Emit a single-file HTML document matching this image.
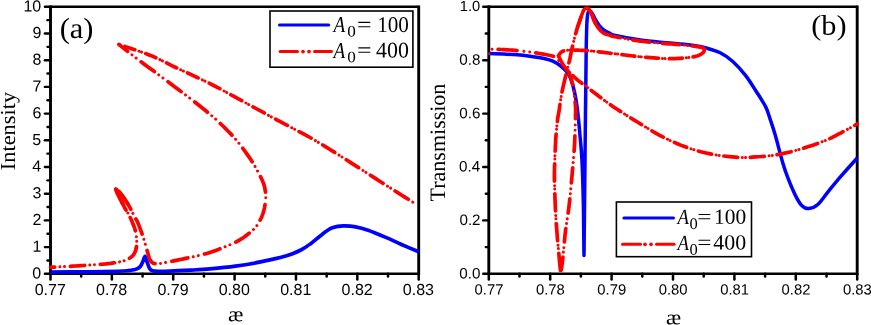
<!DOCTYPE html>
<html><head><meta charset="utf-8"><title>chart</title>
<style>html,body{margin:0;padding:0;background:#fff;}svg{display:block;will-change:transform;}text{text-rendering:geometricPrecision;}.sa{font-family:"Liberation Sans",sans-serif;}.se{font-family:"Liberation Serif",serif;}.si{font-family:"Liberation Serif",serif;font-style:italic;}</style></head>
<body>
<svg width="871" height="325" viewBox="0 0 871 325">
<rect x="0" y="0" width="871" height="325" fill="#ffffff"/>
<line x1="50.50" y1="5.55" x2="50.50" y2="275.05" stroke="#000" stroke-width="2.9"/>
<line x1="418.70" y1="5.55" x2="418.70" y2="275.05" stroke="#000" stroke-width="2.9"/>
<line x1="50.50" y1="6.80" x2="418.70" y2="6.80" stroke="#000" stroke-width="2.5"/>
<line x1="50.50" y1="273.80" x2="418.70" y2="273.80" stroke="#000" stroke-width="2.5"/>
<line x1="488.80" y1="5.55" x2="488.80" y2="275.05" stroke="#000" stroke-width="2.9"/>
<line x1="857.20" y1="5.55" x2="857.20" y2="275.05" stroke="#000" stroke-width="2.9"/>
<line x1="488.80" y1="6.80" x2="857.20" y2="6.80" stroke="#000" stroke-width="2.5"/>
<line x1="488.80" y1="273.80" x2="857.20" y2="273.80" stroke="#000" stroke-width="2.5"/>
<line x1="50.50" y1="273.80" x2="50.50" y2="279.60" stroke="#000" stroke-width="2.5" stroke-linecap="round"/>
<line x1="81.18" y1="273.80" x2="81.18" y2="276.60" stroke="#000" stroke-width="2.5" stroke-linecap="round"/>
<line x1="111.87" y1="273.80" x2="111.87" y2="279.60" stroke="#000" stroke-width="2.5" stroke-linecap="round"/>
<line x1="142.55" y1="273.80" x2="142.55" y2="276.60" stroke="#000" stroke-width="2.5" stroke-linecap="round"/>
<line x1="173.23" y1="273.80" x2="173.23" y2="279.60" stroke="#000" stroke-width="2.5" stroke-linecap="round"/>
<line x1="203.92" y1="273.80" x2="203.92" y2="276.60" stroke="#000" stroke-width="2.5" stroke-linecap="round"/>
<line x1="234.60" y1="273.80" x2="234.60" y2="279.60" stroke="#000" stroke-width="2.5" stroke-linecap="round"/>
<line x1="265.28" y1="273.80" x2="265.28" y2="276.60" stroke="#000" stroke-width="2.5" stroke-linecap="round"/>
<line x1="295.97" y1="273.80" x2="295.97" y2="279.60" stroke="#000" stroke-width="2.5" stroke-linecap="round"/>
<line x1="326.65" y1="273.80" x2="326.65" y2="276.60" stroke="#000" stroke-width="2.5" stroke-linecap="round"/>
<line x1="357.33" y1="273.80" x2="357.33" y2="279.60" stroke="#000" stroke-width="2.5" stroke-linecap="round"/>
<line x1="388.02" y1="273.80" x2="388.02" y2="276.60" stroke="#000" stroke-width="2.5" stroke-linecap="round"/>
<line x1="418.70" y1="273.80" x2="418.70" y2="279.60" stroke="#000" stroke-width="2.5" stroke-linecap="round"/>
<line x1="488.80" y1="273.80" x2="488.80" y2="279.60" stroke="#000" stroke-width="2.5" stroke-linecap="round"/>
<line x1="519.50" y1="273.80" x2="519.50" y2="276.60" stroke="#000" stroke-width="2.5" stroke-linecap="round"/>
<line x1="550.20" y1="273.80" x2="550.20" y2="279.60" stroke="#000" stroke-width="2.5" stroke-linecap="round"/>
<line x1="580.90" y1="273.80" x2="580.90" y2="276.60" stroke="#000" stroke-width="2.5" stroke-linecap="round"/>
<line x1="611.60" y1="273.80" x2="611.60" y2="279.60" stroke="#000" stroke-width="2.5" stroke-linecap="round"/>
<line x1="642.30" y1="273.80" x2="642.30" y2="276.60" stroke="#000" stroke-width="2.5" stroke-linecap="round"/>
<line x1="673.00" y1="273.80" x2="673.00" y2="279.60" stroke="#000" stroke-width="2.5" stroke-linecap="round"/>
<line x1="703.70" y1="273.80" x2="703.70" y2="276.60" stroke="#000" stroke-width="2.5" stroke-linecap="round"/>
<line x1="734.40" y1="273.80" x2="734.40" y2="279.60" stroke="#000" stroke-width="2.5" stroke-linecap="round"/>
<line x1="765.10" y1="273.80" x2="765.10" y2="276.60" stroke="#000" stroke-width="2.5" stroke-linecap="round"/>
<line x1="795.80" y1="273.80" x2="795.80" y2="279.60" stroke="#000" stroke-width="2.5" stroke-linecap="round"/>
<line x1="826.50" y1="273.80" x2="826.50" y2="276.60" stroke="#000" stroke-width="2.5" stroke-linecap="round"/>
<line x1="857.20" y1="273.80" x2="857.20" y2="279.60" stroke="#000" stroke-width="2.5" stroke-linecap="round"/>
<line x1="44.90" y1="273.80" x2="50.50" y2="273.80" stroke="#000" stroke-width="2.4" stroke-linecap="round"/>
<line x1="47.50" y1="260.45" x2="50.50" y2="260.45" stroke="#000" stroke-width="2.4" stroke-linecap="round"/>
<line x1="44.90" y1="247.10" x2="50.50" y2="247.10" stroke="#000" stroke-width="2.4" stroke-linecap="round"/>
<line x1="47.50" y1="233.75" x2="50.50" y2="233.75" stroke="#000" stroke-width="2.4" stroke-linecap="round"/>
<line x1="44.90" y1="220.40" x2="50.50" y2="220.40" stroke="#000" stroke-width="2.4" stroke-linecap="round"/>
<line x1="47.50" y1="207.05" x2="50.50" y2="207.05" stroke="#000" stroke-width="2.4" stroke-linecap="round"/>
<line x1="44.90" y1="193.70" x2="50.50" y2="193.70" stroke="#000" stroke-width="2.4" stroke-linecap="round"/>
<line x1="47.50" y1="180.35" x2="50.50" y2="180.35" stroke="#000" stroke-width="2.4" stroke-linecap="round"/>
<line x1="44.90" y1="167.00" x2="50.50" y2="167.00" stroke="#000" stroke-width="2.4" stroke-linecap="round"/>
<line x1="47.50" y1="153.65" x2="50.50" y2="153.65" stroke="#000" stroke-width="2.4" stroke-linecap="round"/>
<line x1="44.90" y1="140.30" x2="50.50" y2="140.30" stroke="#000" stroke-width="2.4" stroke-linecap="round"/>
<line x1="47.50" y1="126.95" x2="50.50" y2="126.95" stroke="#000" stroke-width="2.4" stroke-linecap="round"/>
<line x1="44.90" y1="113.60" x2="50.50" y2="113.60" stroke="#000" stroke-width="2.4" stroke-linecap="round"/>
<line x1="47.50" y1="100.25" x2="50.50" y2="100.25" stroke="#000" stroke-width="2.4" stroke-linecap="round"/>
<line x1="44.90" y1="86.90" x2="50.50" y2="86.90" stroke="#000" stroke-width="2.4" stroke-linecap="round"/>
<line x1="47.50" y1="73.55" x2="50.50" y2="73.55" stroke="#000" stroke-width="2.4" stroke-linecap="round"/>
<line x1="44.90" y1="60.20" x2="50.50" y2="60.20" stroke="#000" stroke-width="2.4" stroke-linecap="round"/>
<line x1="47.50" y1="46.85" x2="50.50" y2="46.85" stroke="#000" stroke-width="2.4" stroke-linecap="round"/>
<line x1="44.90" y1="33.50" x2="50.50" y2="33.50" stroke="#000" stroke-width="2.4" stroke-linecap="round"/>
<line x1="47.50" y1="20.15" x2="50.50" y2="20.15" stroke="#000" stroke-width="2.4" stroke-linecap="round"/>
<line x1="44.90" y1="6.80" x2="50.50" y2="6.80" stroke="#000" stroke-width="2.4" stroke-linecap="round"/>
<line x1="483.20" y1="273.80" x2="488.80" y2="273.80" stroke="#000" stroke-width="2.4" stroke-linecap="round"/>
<line x1="485.80" y1="247.10" x2="488.80" y2="247.10" stroke="#000" stroke-width="2.4" stroke-linecap="round"/>
<line x1="483.20" y1="220.40" x2="488.80" y2="220.40" stroke="#000" stroke-width="2.4" stroke-linecap="round"/>
<line x1="485.80" y1="193.70" x2="488.80" y2="193.70" stroke="#000" stroke-width="2.4" stroke-linecap="round"/>
<line x1="483.20" y1="167.00" x2="488.80" y2="167.00" stroke="#000" stroke-width="2.4" stroke-linecap="round"/>
<line x1="485.80" y1="140.30" x2="488.80" y2="140.30" stroke="#000" stroke-width="2.4" stroke-linecap="round"/>
<line x1="483.20" y1="113.60" x2="488.80" y2="113.60" stroke="#000" stroke-width="2.4" stroke-linecap="round"/>
<line x1="485.80" y1="86.90" x2="488.80" y2="86.90" stroke="#000" stroke-width="2.4" stroke-linecap="round"/>
<line x1="483.20" y1="60.20" x2="488.80" y2="60.20" stroke="#000" stroke-width="2.4" stroke-linecap="round"/>
<line x1="485.80" y1="33.50" x2="488.80" y2="33.50" stroke="#000" stroke-width="2.4" stroke-linecap="round"/>
<line x1="483.20" y1="6.80" x2="488.80" y2="6.80" stroke="#000" stroke-width="2.4" stroke-linecap="round"/>
<path d="M50.50 272.00 C57.08 271.97 78.75 271.92 90.00 271.80 C101.25 271.68 111.67 271.48 118.00 271.30 C124.33 271.12 125.33 270.97 128.00 270.70 C130.67 270.43 132.33 270.10 134.00 269.70 C135.67 269.30 136.90 268.88 138.00 268.30 C139.10 267.72 139.78 267.33 140.60 266.20 C141.42 265.07 142.15 263.13 142.90 261.50 C143.65 259.87 144.37 256.23 145.10 256.40 C145.83 256.57 146.55 260.48 147.30 262.50 C148.05 264.52 148.73 267.12 149.60 268.50 C150.47 269.88 151.10 270.32 152.50 270.80 C153.90 271.28 155.08 271.33 158.00 271.40 C160.92 271.47 164.67 271.40 170.00 271.20 C175.33 271.00 183.33 270.58 190.00 270.20 C196.67 269.82 202.45 269.57 210.00 268.90 C217.55 268.23 226.88 267.37 235.30 266.20 C243.72 265.03 252.08 263.58 260.50 261.90 C268.92 260.22 279.07 258.08 285.80 256.10 C292.53 254.12 296.70 252.12 300.90 250.00 C305.10 247.88 307.80 245.73 311.00 243.40 C314.20 241.07 316.90 238.45 320.10 236.00 C323.30 233.55 327.25 230.30 330.20 228.70 C333.15 227.10 335.48 226.87 337.80 226.40 C340.12 225.93 341.15 225.82 344.10 225.90 C347.05 225.98 351.50 226.17 355.50 226.90 C359.50 227.63 363.05 228.55 368.10 230.30 C373.15 232.05 380.33 235.08 385.80 237.40 C391.27 239.72 395.42 241.80 400.90 244.20 C406.38 246.60 415.73 250.53 418.70 251.80" fill="none" stroke="#0000ff" stroke-width="3.7" stroke-linejoin="round"/>
<path d="M115.80 189.20 L115.92 189.51 L116.04 189.84 L116.17 190.23 L116.35 190.71 L116.58 191.29 L116.89 192.02 L117.29 192.91 L117.80 194.00 L118.47 195.38 L119.31 197.09 L120.26 199.00 L121.28 201.03 L122.31 203.08 L123.30 205.04 L124.22 206.81 L125.00 208.30 L125.65 209.48 L126.22 210.44 L126.73 211.25 L127.19 211.95 L127.63 212.62 L128.06 213.31 L128.51 214.08 L129.00 215.00 L129.53 216.08 L130.09 217.26 L130.66 218.52 L131.22 219.81 L131.78 221.09 L132.30 222.32 L132.78 223.47 L133.20 224.50 L133.56 225.38 L133.87 226.14 L134.14 226.82 L134.37 227.45 L134.59 228.08 L134.79 228.73 L134.99 229.46 L135.20 230.30 L135.42 231.24 L135.63 232.26 L135.85 233.32 L136.05 234.43 L136.23 235.57 L136.39 236.71 L136.52 237.86 L136.60 239.00 L136.66 240.15 L136.70 241.33 L136.72 242.53 L136.71 243.73 L136.66 244.93 L136.56 246.09 L136.41 247.22 L136.20 248.30 L135.94 249.34 L135.63 250.35 L135.29 251.34 L134.89 252.29 L134.43 253.21 L133.92 254.09 L133.35 254.92 L132.70 255.70 L131.97 256.43 L131.17 257.10 L130.29 257.74 L129.36 258.32 L128.38 258.87 L127.37 259.38 L126.34 259.86 L125.30 260.30 L124.25 260.69 L123.17 261.04 L122.07 261.33 L120.93 261.59 L119.77 261.83 L118.58 262.06 L117.35 262.27 L116.10 262.50 L114.82 262.72 L113.53 262.94 L112.20 263.14 L110.85 263.32 L109.46 263.50 L108.02 263.68 L106.54 263.84 L105.00 264.00 L103.44 264.15 L101.87 264.28 L100.27 264.40 L98.62 264.51 L96.89 264.62 L95.06 264.74 L93.10 264.86 L91.00 265.00 L88.70 265.15 L86.21 265.31 L83.57 265.48 L80.84 265.65 L78.07 265.82 L75.31 265.99 L72.60 266.15 L70.00 266.30 L67.36 266.45 L64.56 266.59 L61.72 266.74 L58.94 266.88 L56.32 267.01 L53.97 267.13 L51.99 267.22 L50.50 267.30" fill="none" stroke="#ff0000" stroke-width="3.70" stroke-linecap="round" stroke-linejoin="round" stroke-dasharray="10.00 1.85 14.30 15.70 14.30 15.70 14.30 15.70 14.30 15.70 14.30 15.70 4.21 50.00" stroke-dashoffset="10.00"/>
<path d="M115.80 189.20 L115.92 189.51 L116.04 189.84 L116.17 190.23 L116.35 190.71 L116.58 191.29 L116.89 192.02 L117.29 192.91 L117.80 194.00 L118.47 195.38 L119.31 197.09 L120.26 199.00 L121.28 201.03 L122.31 203.08 L123.30 205.04 L124.22 206.81 L125.00 208.30 L125.65 209.48 L126.22 210.44 L126.73 211.25 L127.19 211.95 L127.63 212.62 L128.06 213.31 L128.51 214.08 L129.00 215.00 L129.53 216.08 L130.09 217.26 L130.66 218.52 L131.22 219.81 L131.78 221.09 L132.30 222.32 L132.78 223.47 L133.20 224.50 L133.56 225.38 L133.87 226.14 L134.14 226.82 L134.37 227.45 L134.59 228.08 L134.79 228.73 L134.99 229.46 L135.20 230.30 L135.42 231.24 L135.63 232.26 L135.85 233.32 L136.05 234.43 L136.23 235.57 L136.39 236.71 L136.52 237.86 L136.60 239.00 L136.66 240.15 L136.70 241.33 L136.72 242.53 L136.71 243.73 L136.66 244.93 L136.56 246.09 L136.41 247.22 L136.20 248.30 L135.94 249.34 L135.63 250.35 L135.29 251.34 L134.89 252.29 L134.43 253.21 L133.92 254.09 L133.35 254.92 L132.70 255.70 L131.97 256.43 L131.17 257.10 L130.29 257.74 L129.36 258.32 L128.38 258.87 L127.37 259.38 L126.34 259.86 L125.30 260.30 L124.25 260.69 L123.17 261.04 L122.07 261.33 L120.93 261.59 L119.77 261.83 L118.58 262.06 L117.35 262.27 L116.10 262.50 L114.82 262.72 L113.53 262.94 L112.20 263.14 L110.85 263.32 L109.46 263.50 L108.02 263.68 L106.54 263.84 L105.00 264.00 L103.44 264.15 L101.87 264.28 L100.27 264.40 L98.62 264.51 L96.89 264.62 L95.06 264.74 L93.10 264.86 L91.00 265.00 L88.70 265.15 L86.21 265.31 L83.57 265.48 L80.84 265.65 L78.07 265.82 L75.31 265.99 L72.60 266.15 L70.00 266.30 L67.36 266.45 L64.56 266.59 L61.72 266.74 L58.94 266.88 L56.32 267.01 L53.97 267.13 L51.99 267.22 L50.50 267.30" fill="none" stroke="#ff0000" stroke-width="3.00" stroke-linecap="round" stroke-linejoin="round" stroke-dasharray="10.00 22.05 0.01 4.64 0.01 25.34 0.01 4.64 0.01 25.34 0.01 4.64 0.01 25.34 0.01 4.64 0.01 25.34 0.01 4.64 0.01 59.35" stroke-dashoffset="10.00"/>
<path d="M265.80 199.00 L265.69 199.74 L265.56 200.73 L265.40 201.91 L265.22 203.22 L265.02 204.59 L264.79 205.97 L264.56 207.30 L264.30 208.50 L264.03 209.61 L263.76 210.69 L263.46 211.76 L263.15 212.81 L262.81 213.85 L262.44 214.89 L262.04 215.94 L261.60 217.00 L261.10 218.10 L260.55 219.24 L259.95 220.40 L259.33 221.56 L258.70 222.68 L258.07 223.74 L257.47 224.73 L256.90 225.60 L256.40 226.33 L255.96 226.94 L255.55 227.45 L255.14 227.91 L254.71 228.35 L254.21 228.82 L253.62 229.36 L252.90 230.00 L252.05 230.75 L251.08 231.58 L250.03 232.47 L248.91 233.38 L247.76 234.31 L246.59 235.21 L245.43 236.09 L244.30 236.90 L243.18 237.67 L242.04 238.43 L240.88 239.17 L239.73 239.88 L238.58 240.57 L237.45 241.22 L236.35 241.83 L235.30 242.40 L234.35 242.89 L233.53 243.30 L232.76 243.65 L232.00 243.97 L231.19 244.30 L230.28 244.66 L229.20 245.08 L227.90 245.60 L226.35 246.23 L224.58 246.95 L222.65 247.73 L220.62 248.55 L218.53 249.37 L216.45 250.18 L214.42 250.93 L212.50 251.60 L210.74 252.19 L209.10 252.72 L207.53 253.20 L205.95 253.66 L204.31 254.11 L202.55 254.58 L200.60 255.07 L198.40 255.60 L195.86 256.19 L193.00 256.83 L189.92 257.50 L186.73 258.18 L183.53 258.84 L180.44 259.48 L177.56 260.07 L175.00 260.60 L172.71 261.07 L170.56 261.52 L168.56 261.93 L166.69 262.31 L164.96 262.65 L163.35 262.95 L161.87 263.20 L160.50 263.40 L159.29 263.56 L158.25 263.67 L157.35 263.74 L156.57 263.77 L155.88 263.75 L155.24 263.68 L154.62 263.57 L154.00 263.40 L153.40 263.20 L152.86 262.96 L152.37 262.69 L151.92 262.37 L151.50 261.98 L151.10 261.51 L150.70 260.96 L150.30 260.30 L149.91 259.54 L149.56 258.70 L149.22 257.77 L148.90 256.77 L148.58 255.69 L148.24 254.53 L147.89 253.30 L147.50 252.00 L147.09 250.60 L146.66 249.08 L146.22 247.46 L145.76 245.79 L145.29 244.07 L144.81 242.35 L144.31 240.65 L143.80 239.00 L143.25 237.33 L142.66 235.59 L142.04 233.81 L141.41 232.06 L140.79 230.36 L140.20 228.77 L139.67 227.34 L139.20 226.10 L138.82 225.10 L138.51 224.30 L138.25 223.66 L138.02 223.12 L137.80 222.64 L137.57 222.16 L137.31 221.63 L137.00 221.00 L136.65 220.31 L136.29 219.63 L135.90 218.95 L135.51 218.24 L135.09 217.51 L134.65 216.73 L134.19 215.90 L133.70 215.00 L133.20 214.04 L132.70 213.03 L132.19 211.98 L131.64 210.88 L131.07 209.73 L130.44 208.53 L129.75 207.29 L129.00 206.00 L128.14 204.59 L127.17 203.04 L126.12 201.40 L125.03 199.74 L123.94 198.10 L122.88 196.56 L121.89 195.18 L121.00 194.00 L120.18 193.02 L119.38 192.18 L118.62 191.46 L117.90 190.85 L117.25 190.33 L116.67 189.89 L116.18 189.52 L115.80 189.20" fill="none" stroke="#ff0000" stroke-width="3.70" stroke-linecap="round" stroke-linejoin="round" stroke-dasharray="10.00 5.65 16.37 17.08 16.37 17.08 16.37 17.08 16.37 17.08 16.37 17.08 16.37 17.08 16.37 52.78" stroke-dashoffset="10.00"/>
<path d="M265.80 199.00 L265.69 199.74 L265.56 200.73 L265.40 201.91 L265.22 203.22 L265.02 204.59 L264.79 205.97 L264.56 207.30 L264.30 208.50 L264.03 209.61 L263.76 210.69 L263.46 211.76 L263.15 212.81 L262.81 213.85 L262.44 214.89 L262.04 215.94 L261.60 217.00 L261.10 218.10 L260.55 219.24 L259.95 220.40 L259.33 221.56 L258.70 222.68 L258.07 223.74 L257.47 224.73 L256.90 225.60 L256.40 226.33 L255.96 226.94 L255.55 227.45 L255.14 227.91 L254.71 228.35 L254.21 228.82 L253.62 229.36 L252.90 230.00 L252.05 230.75 L251.08 231.58 L250.03 232.47 L248.91 233.38 L247.76 234.31 L246.59 235.21 L245.43 236.09 L244.30 236.90 L243.18 237.67 L242.04 238.43 L240.88 239.17 L239.73 239.88 L238.58 240.57 L237.45 241.22 L236.35 241.83 L235.30 242.40 L234.35 242.89 L233.53 243.30 L232.76 243.65 L232.00 243.97 L231.19 244.30 L230.28 244.66 L229.20 245.08 L227.90 245.60 L226.35 246.23 L224.58 246.95 L222.65 247.73 L220.62 248.55 L218.53 249.37 L216.45 250.18 L214.42 250.93 L212.50 251.60 L210.74 252.19 L209.10 252.72 L207.53 253.20 L205.95 253.66 L204.31 254.11 L202.55 254.58 L200.60 255.07 L198.40 255.60 L195.86 256.19 L193.00 256.83 L189.92 257.50 L186.73 258.18 L183.53 258.84 L180.44 259.48 L177.56 260.07 L175.00 260.60 L172.71 261.07 L170.56 261.52 L168.56 261.93 L166.69 262.31 L164.96 262.65 L163.35 262.95 L161.87 263.20 L160.50 263.40 L159.29 263.56 L158.25 263.67 L157.35 263.74 L156.57 263.77 L155.88 263.75 L155.24 263.68 L154.62 263.57 L154.00 263.40 L153.40 263.20 L152.86 262.96 L152.37 262.69 L151.92 262.37 L151.50 261.98 L151.10 261.51 L150.70 260.96 L150.30 260.30 L149.91 259.54 L149.56 258.70 L149.22 257.77 L148.90 256.77 L148.58 255.69 L148.24 254.53 L147.89 253.30 L147.50 252.00 L147.09 250.60 L146.66 249.08 L146.22 247.46 L145.76 245.79 L145.29 244.07 L144.81 242.35 L144.31 240.65 L143.80 239.00 L143.25 237.33 L142.66 235.59 L142.04 233.81 L141.41 232.06 L140.79 230.36 L140.20 228.77 L139.67 227.34 L139.20 226.10 L138.82 225.10 L138.51 224.30 L138.25 223.66 L138.02 223.12 L137.80 222.64 L137.57 222.16 L137.31 221.63 L137.00 221.00 L136.65 220.31 L136.29 219.63 L135.90 218.95 L135.51 218.24 L135.09 217.51 L134.65 216.73 L134.19 215.90 L133.70 215.00 L133.20 214.04 L132.70 213.03 L132.19 211.98 L131.64 210.88 L131.07 209.73 L130.44 208.53 L129.75 207.29 L129.00 206.00 L128.14 204.59 L127.17 203.04 L126.12 201.40 L125.03 199.74 L123.94 198.10 L122.88 196.56 L121.89 195.18 L121.00 194.00 L120.18 193.02 L119.38 192.18 L118.62 191.46 L117.90 190.85 L117.25 190.33 L116.67 189.89 L116.18 189.52 L115.80 189.20" fill="none" stroke="#ff0000" stroke-width="3.00" stroke-linecap="round" stroke-linejoin="round" stroke-dasharray="10.00 28.39 0.01 5.17 0.01 28.26 0.01 5.17 0.01 28.26 0.01 5.17 0.01 28.26 0.01 5.17 0.01 28.26 0.01 5.17 0.01 28.26 0.01 5.17 0.01 74.67" stroke-dashoffset="10.00"/>
<path d="M265.80 199.00 L265.76 198.34 L265.73 197.46 L265.68 196.41 L265.62 195.24 L265.55 194.02 L265.46 192.78 L265.35 191.59 L265.20 190.50 L265.04 189.51 L264.88 188.56 L264.71 187.64 L264.51 186.72 L264.27 185.79 L263.98 184.80 L263.63 183.75 L263.20 182.60 L262.69 181.35 L262.11 180.03 L261.46 178.64 L260.77 177.21 L260.03 175.74 L259.27 174.25 L258.49 172.77 L257.70 171.30 L256.94 169.89 L256.22 168.54 L255.51 167.21 L254.75 165.86 L253.92 164.43 L252.97 162.89 L251.88 161.20 L250.60 159.30 L249.13 157.17 L247.51 154.83 L245.75 152.33 L243.87 149.71 L241.89 147.04 L239.82 144.34 L237.69 141.68 L235.50 139.10 L233.23 136.56 L230.84 133.99 L228.36 131.41 L225.80 128.84 L223.19 126.28 L220.56 123.77 L217.92 121.30 L215.30 118.90 L212.74 116.61 L210.23 114.45 L207.74 112.36 L205.21 110.29 L202.59 108.20 L199.85 106.03 L196.94 103.75 L193.80 101.30 L190.37 98.64 L186.64 95.79 L182.72 92.81 L178.68 89.77 L174.61 86.72 L170.60 83.71 L166.74 80.82 L163.10 78.10 L159.64 75.52 L156.27 73.02 L152.97 70.59 L149.77 68.23 L146.65 65.94 L143.64 63.70 L140.72 61.52 L137.90 59.40 L135.10 57.25 L132.27 55.06 L129.49 52.88 L126.83 50.78 L124.36 48.83 L122.17 47.09 L120.32 45.62 L118.90 44.50" fill="none" stroke="#ff0000" stroke-width="3.70" stroke-linecap="round" stroke-linejoin="round" stroke-dasharray="10.00 6.85 16.39 17.09 16.39 17.09 16.39 17.09 16.39 17.09 16.39 17.09 16.39 17.09 11.11 50.00" stroke-dashoffset="10.00"/>
<path d="M265.80 199.00 L265.76 198.34 L265.73 197.46 L265.68 196.41 L265.62 195.24 L265.55 194.02 L265.46 192.78 L265.35 191.59 L265.20 190.50 L265.04 189.51 L264.88 188.56 L264.71 187.64 L264.51 186.72 L264.27 185.79 L263.98 184.80 L263.63 183.75 L263.20 182.60 L262.69 181.35 L262.11 180.03 L261.46 178.64 L260.77 177.21 L260.03 175.74 L259.27 174.25 L258.49 172.77 L257.70 171.30 L256.94 169.89 L256.22 168.54 L255.51 167.21 L254.75 165.86 L253.92 164.43 L252.97 162.89 L251.88 161.20 L250.60 159.30 L249.13 157.17 L247.51 154.83 L245.75 152.33 L243.87 149.71 L241.89 147.04 L239.82 144.34 L237.69 141.68 L235.50 139.10 L233.23 136.56 L230.84 133.99 L228.36 131.41 L225.80 128.84 L223.19 126.28 L220.56 123.77 L217.92 121.30 L215.30 118.90 L212.74 116.61 L210.23 114.45 L207.74 112.36 L205.21 110.29 L202.59 108.20 L199.85 106.03 L196.94 103.75 L193.80 101.30 L190.37 98.64 L186.64 95.79 L182.72 92.81 L178.68 89.77 L174.61 86.72 L170.60 83.71 L166.74 80.82 L163.10 78.10 L159.64 75.52 L156.27 73.02 L152.97 70.59 L149.77 68.23 L146.65 65.94 L143.64 63.70 L140.72 61.52 L137.90 59.40 L135.10 57.25 L132.27 55.06 L129.49 52.88 L126.83 50.78 L124.36 48.83 L122.17 47.09 L120.32 45.62 L118.90 44.50" fill="none" stroke="#ff0000" stroke-width="3.00" stroke-linecap="round" stroke-linejoin="round" stroke-dasharray="10.00 1.32 0.01 28.28 0.01 5.18 0.01 28.28 0.01 5.18 0.01 28.28 0.01 5.18 0.01 28.28 0.01 5.18 0.01 28.28 0.01 5.18 0.01 28.28 0.01 5.18 0.01 66.63" stroke-dashoffset="10.00"/>
<path d="M118.90 44.50 L121.38 45.33 L124.73 46.43 L128.71 47.74 L133.12 49.19 L137.72 50.75 L142.30 52.34 L146.64 53.91 L150.50 55.40 L153.90 56.83 L157.06 58.25 L160.06 59.67 L162.99 61.12 L165.94 62.62 L169.00 64.17 L172.25 65.79 L175.80 67.50 L179.69 69.33 L183.87 71.27 L188.25 73.29 L192.74 75.37 L197.25 77.47 L201.68 79.56 L205.97 81.61 L210.00 83.60 L213.72 85.49 L217.18 87.29 L220.48 89.06 L223.72 90.81 L226.98 92.61 L230.37 94.47 L233.98 96.46 L237.90 98.60 L242.18 100.93 L246.76 103.43 L251.54 106.05 L256.46 108.75 L261.42 111.47 L266.35 114.17 L271.17 116.79 L275.80 119.30 L280.31 121.71 L284.82 124.09 L289.29 126.44 L293.69 128.74 L297.99 131.00 L302.16 133.21 L306.18 135.38 L310.00 137.50 L313.59 139.55 L316.95 141.51 L320.14 143.41 L323.21 145.28 L326.21 147.13 L329.19 148.99 L332.20 150.87 L335.30 152.80 L338.45 154.77 L341.60 156.77 L344.75 158.77 L347.90 160.79 L351.05 162.82 L354.20 164.85 L357.35 166.88 L360.50 168.90 L363.64 170.91 L366.75 172.91 L369.86 174.90 L372.98 176.90 L376.11 178.91 L379.28 180.94 L382.51 183.00 L385.80 185.10 L389.36 187.36 L393.27 189.83 L397.33 192.41 L401.38 194.96 L405.23 197.39 L408.71 199.58 L411.62 201.42 L413.80 202.80" fill="none" stroke="#ff0000" stroke-width="3.70" stroke-linecap="round" stroke-linejoin="round" stroke-dasharray="10.00 6.23 10.49 11.68 10.85 11.89 11.23 12.10 11.62 12.31 12.01 12.54 12.41 12.76 12.83 13.00 13.26 13.24 13.69 13.48 14.14 13.74 14.60 13.99 15.07 14.26 15.56 56.54" stroke-dashoffset="10.00"/>
<path d="M118.90 44.50 L121.38 45.33 L124.73 46.43 L128.71 47.74 L133.12 49.19 L137.72 50.75 L142.30 52.34 L146.64 53.91 L150.50 55.40 L153.90 56.83 L157.06 58.25 L160.06 59.67 L162.99 61.12 L165.94 62.62 L169.00 64.17 L172.25 65.79 L175.80 67.50 L179.69 69.33 L183.87 71.27 L188.25 73.29 L192.74 75.37 L197.25 77.47 L201.68 79.56 L205.97 81.61 L210.00 83.60 L213.72 85.49 L217.18 87.29 L220.48 89.06 L223.72 90.81 L226.98 92.61 L230.37 94.47 L233.98 96.46 L237.90 98.60 L242.18 100.93 L246.76 103.43 L251.54 106.05 L256.46 108.75 L261.42 111.47 L266.35 114.17 L271.17 116.79 L275.80 119.30 L280.31 121.71 L284.82 124.09 L289.29 126.44 L293.69 128.74 L297.99 131.00 L302.16 133.21 L306.18 135.38 L310.00 137.50 L313.59 139.55 L316.95 141.51 L320.14 143.41 L323.21 145.28 L326.21 147.13 L329.19 148.99 L332.20 150.87 L335.30 152.80 L338.45 154.77 L341.60 156.77 L344.75 158.77 L347.90 160.79 L351.05 162.82 L354.20 164.85 L357.35 166.88 L360.50 168.90 L363.64 170.91 L366.75 172.91 L369.86 174.90 L372.98 176.90 L376.11 178.91 L379.28 180.94 L382.51 183.00 L385.80 185.10 L389.36 187.36 L393.27 189.83 L397.33 192.41 L401.38 194.96 L405.23 197.39 L408.71 199.58 L411.62 201.42 L413.80 202.80" fill="none" stroke="#ff0000" stroke-width="3.00" stroke-linecap="round" stroke-linejoin="round" stroke-dasharray="10.00 1.74 0.01 19.38 0.01 2.76 0.01 19.82 0.01 2.83 0.01 20.33 0.01 2.91 0.01 20.86 0.01 2.98 0.01 21.39 0.01 3.06 0.01 21.95 0.01 3.14 0.01 22.51 0.01 3.22 0.01 23.09 0.01 3.30 0.01 23.69 0.01 3.39 0.01 24.30 0.01 3.47 0.01 24.93 0.01 3.56 0.01 25.57 0.01 3.66 0.01 26.23 0.01 51.22" stroke-dashoffset="10.00"/>
<path d="M115.80 189.20 L115.84 189.30 L115.88 189.40 L115.92 189.51 L115.96 189.61 L116.00 189.72 L116.04 189.84 L116.08 189.96 L116.13 190.09 L116.17 190.23 L116.23 190.38 L116.29 190.54 L116.35 190.71 L116.42 190.89 L116.50 191.08 L116.58 191.29 L116.67 191.52 L116.78 191.76 L116.89 192.02 L117.01 192.30 L117.14 192.59 L117.29 192.91 L117.44 193.25 L117.62 193.61 L117.80 194.00 L118.00 194.42 L118.23 194.88 L118.47 195.38 L118.74 195.92 L119.02 196.49 L119.31 197.09 L119.62 197.70 L119.93 198.34 L120.26 199.00 L120.59 199.67 L120.93 200.35 L121.28 201.03 L121.62 201.72 L121.96 202.40 L122.31 203.08 L122.64 203.74 L122.98 204.40 L123.30 205.04 L123.62 205.65 L123.92 206.25 L124.22 206.81 L124.50 207.34 L124.76 207.84 L125.00 208.30 L125.23 208.72 L125.44 209.12 L125.65 209.48 L125.85 209.82 L126.04 210.14" fill="none" stroke="#ff0000" stroke-width="3.70" stroke-linecap="round" stroke-linejoin="round"/>
<path d="M115.80 189.20 L115.91 189.30 L116.04 189.41 L116.18 189.52 L116.33 189.64 L116.50 189.76 L116.67 189.89 L116.85 190.03 L117.04 190.18 L117.25 190.33 L117.46 190.50 L117.67 190.67 L117.90 190.85 L118.13 191.04 L118.37 191.25 L118.62 191.46 L118.87 191.69 L119.12 191.93 L119.38 192.18 L119.64 192.45 L119.91 192.73 L120.18 193.02 L120.45 193.33 L120.73 193.66 L121.00 194.00 L121.28 194.36 L121.58 194.76 L121.89 195.18 L122.21 195.62 L122.54 196.08 L122.88 196.56 L123.23 197.06 L123.58 197.58 L123.94 198.10 L124.30 198.64 L124.67 199.19 L125.03 199.74 L125.40 200.29 L125.76 200.85 L126.12 201.40 L126.47 201.96 L126.82 202.50 L127.17 203.04 L127.50 203.57 L127.83 204.09 L128.14 204.59 L128.44 205.08 L128.73 205.55 L129.00 206.00 L129.26 206.43 L129.51 206.86 L129.75 207.29 L129.99 207.71 L130.22 208.12 L130.44 208.53 L130.65 208.93 L130.86 209.33" fill="none" stroke="#ff0000" stroke-width="3.70" stroke-linecap="round" stroke-linejoin="round"/>
<path d="M489.00 53.60 C493.67 53.80 509.67 54.27 517.00 54.80 C524.33 55.33 528.33 56.13 533.00 56.80 C537.67 57.47 541.70 58.07 545.00 58.80 C548.30 59.53 550.17 60.00 552.80 61.20 C555.43 62.40 558.53 64.28 560.80 66.00 C563.07 67.72 564.78 69.50 566.40 71.50 C568.02 73.50 569.15 74.58 570.50 78.00 C571.85 81.42 573.33 86.67 574.50 92.00 C575.67 97.33 576.58 102.73 577.50 110.00 C578.42 117.27 579.25 127.10 580.00 135.60 C580.75 144.10 581.45 150.10 582.00 161.00 C582.55 171.90 583.00 187.83 583.30 201.00 C583.60 214.17 583.68 230.92 583.80 240.00 C583.92 249.08 583.97 252.92 584.00 255.50 C584.10 246.42 584.35 225.25 584.60 201.00 C584.85 176.75 585.23 135.17 585.50 110.00 C585.77 84.83 585.98 64.17 586.20 50.00 C586.42 35.83 586.57 30.92 586.80 25.00 C587.03 19.08 587.25 16.80 587.60 14.50 C587.95 12.20 588.40 11.68 588.90 11.20 C589.40 10.72 589.93 11.03 590.60 11.60 C591.27 12.17 592.00 13.12 592.90 14.60 C593.80 16.08 594.93 18.67 596.00 20.50 C597.07 22.33 597.97 23.98 599.30 25.60 C600.63 27.22 602.22 28.90 604.00 30.20 C605.78 31.50 608.12 32.53 610.00 33.40 C611.88 34.27 610.22 34.30 615.30 35.40 C620.38 36.50 632.08 38.78 640.50 40.00 C648.92 41.22 658.55 41.98 665.80 42.70 C673.05 43.42 678.30 43.68 684.00 44.30 C689.70 44.92 696.50 45.85 700.00 46.40 C703.50 46.95 701.63 46.53 705.00 47.60 C708.37 48.67 715.57 50.48 720.20 52.80 C724.83 55.12 728.58 57.73 732.80 61.50 C737.02 65.27 741.70 70.57 745.50 75.40 C749.30 80.23 752.23 85.25 755.60 90.50 C758.97 95.75 763.18 101.85 765.70 106.90 C768.22 111.95 769.10 116.07 770.70 120.80 C772.30 125.53 773.28 128.27 775.30 135.30 C777.32 142.33 780.72 155.93 782.80 163.00 C784.88 170.07 785.70 172.30 787.80 177.70 C789.90 183.10 793.08 190.77 795.40 195.40 C797.72 200.03 799.48 203.30 801.70 205.50 C803.92 207.70 805.97 208.82 808.70 208.60 C811.43 208.38 814.85 207.03 818.10 204.20 C821.35 201.37 824.42 196.23 828.20 191.60 C831.98 186.97 835.97 182.00 840.80 176.40 C845.63 170.80 854.47 161.07 857.20 158.00" fill="none" stroke="#0000ff" stroke-width="3.5" stroke-linejoin="round"/>
<path d="M489.00 49.00 L490.63 49.07 L492.80 49.16 L495.38 49.26 L498.25 49.38 L501.28 49.51 L504.33 49.66 L507.28 49.82 L510.00 50.00 L512.58 50.20 L515.19 50.42 L517.79 50.65 L520.38 50.91 L522.91 51.17 L525.38 51.44 L527.75 51.72 L530.00 52.00 L532.15 52.29 L534.23 52.59 L536.24 52.91 L538.16 53.23 L540.00 53.56 L541.76 53.88 L543.43 54.19 L545.00 54.50 L546.46 54.77 L547.81 55.01 L549.07 55.23 L550.24 55.45 L551.34 55.70 L552.39 55.99 L553.41 56.35 L554.40 56.80 L555.35 57.35 L556.25 57.98 L557.09 58.68 L557.89 59.42 L558.65 60.19 L559.38 60.97 L560.10 61.75 L560.80 62.50 L561.48 63.24 L562.13 63.99 L562.75 64.75 L563.35 65.51 L563.93 66.27 L564.49 67.03 L565.05 67.77 L565.60 68.50 L566.14 69.16 L566.66 69.72 L567.17 70.24 L567.67 70.78 L568.16 71.37 L568.64 72.07 L569.12 72.93 L569.60 74.00 L570.09 75.31 L570.59 76.81 L571.09 78.47 L571.59 80.24 L572.06 82.09 L572.52 83.95 L572.93 85.81 L573.30 87.60 L573.62 89.39 L573.91 91.25 L574.17 93.13 L574.40 95.03 L574.60 96.89 L574.79 98.69 L574.95 100.41 L575.10 102.00 L575.23 103.37 L575.34 104.49 L575.44 105.47 L575.51 106.43 L575.56 107.45 L575.59 108.65 L575.60 110.13 L575.60 112.00 L575.57 114.36 L575.51 117.16 L575.43 120.26 L575.33 123.52 L575.22 126.83 L575.10 130.03 L575.00 133.00 L574.90 135.60 L574.82 137.76 L574.76 139.58 L574.70 141.18 L574.64 142.68 L574.57 144.18 L574.48 145.83 L574.36 147.73 L574.20 150.00 L574.00 152.67 L573.76 155.62 L573.49 158.79 L573.21 162.11 L572.91 165.52 L572.60 168.95 L572.29 172.33 L572.00 175.60 L571.70 178.87 L571.40 182.25 L571.08 185.68 L570.76 189.09 L570.45 192.39 L570.15 195.53 L569.86 198.42 L569.60 201.00 L569.37 203.20 L569.16 205.05 L568.98 206.65 L568.80 208.09 L568.62 209.45 L568.44 210.83 L568.23 212.32 L568.00 214.00 L567.73 215.86 L567.44 217.79 L567.12 219.78 L566.80 221.81 L566.48 223.87 L566.16 225.93 L565.87 227.98 L565.60 230.00 L565.36 232.00 L565.14 234.00 L564.94 236.00 L564.75 238.00 L564.56 240.00 L564.38 242.00 L564.19 244.00 L564.00 246.00 L563.80 248.04 L563.60 250.13 L563.40 252.25 L563.20 254.36 L563.00 256.42 L562.80 258.40 L562.60 260.27 L562.40 262.00 L562.19 263.63 L561.96 265.22 L561.73 266.73 L561.50 268.15 L561.28 269.44 L561.09 270.58 L560.92 271.54 L560.80 272.30" fill="none" stroke="#ff0000" stroke-width="3.70" stroke-linecap="round" stroke-linejoin="round" stroke-dasharray="10.00 9.12 18.93 18.79 18.07 18.21 17.24 17.66 16.45 17.13 15.68 16.62 14.94 16.13 14.23 15.65 13.55 15.20 12.89 52.46" stroke-dashoffset="10.00"/>
<path d="M489.00 49.00 L490.63 49.07 L492.80 49.16 L495.38 49.26 L498.25 49.38 L501.28 49.51 L504.33 49.66 L507.28 49.82 L510.00 50.00 L512.58 50.20 L515.19 50.42 L517.79 50.65 L520.38 50.91 L522.91 51.17 L525.38 51.44 L527.75 51.72 L530.00 52.00 L532.15 52.29 L534.23 52.59 L536.24 52.91 L538.16 53.23 L540.00 53.56 L541.76 53.88 L543.43 54.19 L545.00 54.50 L546.46 54.77 L547.81 55.01 L549.07 55.23 L550.24 55.45 L551.34 55.70 L552.39 55.99 L553.41 56.35 L554.40 56.80 L555.35 57.35 L556.25 57.98 L557.09 58.68 L557.89 59.42 L558.65 60.19 L559.38 60.97 L560.10 61.75 L560.80 62.50 L561.48 63.24 L562.13 63.99 L562.75 64.75 L563.35 65.51 L563.93 66.27 L564.49 67.03 L565.05 67.77 L565.60 68.50 L566.14 69.16 L566.66 69.72 L567.17 70.24 L567.67 70.78 L568.16 71.37 L568.64 72.07 L569.12 72.93 L569.60 74.00 L570.09 75.31 L570.59 76.81 L571.09 78.47 L571.59 80.24 L572.06 82.09 L572.52 83.95 L572.93 85.81 L573.30 87.60 L573.62 89.39 L573.91 91.25 L574.17 93.13 L574.40 95.03 L574.60 96.89 L574.79 98.69 L574.95 100.41 L575.10 102.00 L575.23 103.37 L575.34 104.49 L575.44 105.47 L575.51 106.43 L575.56 107.45 L575.59 108.65 L575.60 110.13 L575.60 112.00 L575.57 114.36 L575.51 117.16 L575.43 120.26 L575.33 123.52 L575.22 126.83 L575.10 130.03 L575.00 133.00 L574.90 135.60 L574.82 137.76 L574.76 139.58 L574.70 141.18 L574.64 142.68 L574.57 144.18 L574.48 145.83 L574.36 147.73 L574.20 150.00 L574.00 152.67 L573.76 155.62 L573.49 158.79 L573.21 162.11 L572.91 165.52 L572.60 168.95 L572.29 172.33 L572.00 175.60 L571.70 178.87 L571.40 182.25 L571.08 185.68 L570.76 189.09 L570.45 192.39 L570.15 195.53 L569.86 198.42 L569.60 201.00 L569.37 203.20 L569.16 205.05 L568.98 206.65 L568.80 208.09 L568.62 209.45 L568.44 210.83 L568.23 212.32 L568.00 214.00 L567.73 215.86 L567.44 217.79 L567.12 219.78 L566.80 221.81 L566.48 223.87 L566.16 225.93 L565.87 227.98 L565.60 230.00 L565.36 232.00 L565.14 234.00 L564.94 236.00 L564.75 238.00 L564.56 240.00 L564.38 242.00 L564.19 244.00 L564.00 246.00 L563.80 248.04 L563.60 250.13 L563.40 252.25 L563.20 254.36 L563.00 256.42 L562.80 258.40 L562.60 260.27 L562.40 262.00 L562.19 263.63 L561.96 265.22 L561.73 266.73 L561.50 268.15 L561.28 269.44 L561.09 270.58 L560.92 271.54 L560.80 272.30" fill="none" stroke="#ff0000" stroke-width="3.00" stroke-linecap="round" stroke-linejoin="round" stroke-dasharray="10.00 3.09 0.01 31.90 0.01 5.84 0.01 30.81 0.01 5.61 0.01 29.64 0.01 5.40 0.01 28.51 0.01 5.19 0.01 27.42 0.01 5.00 0.01 26.38 0.01 4.81 0.01 25.37 0.01 4.62 0.01 24.41 0.01 4.45 0.01 70.35" stroke-dashoffset="10.00"/>
<path d="M560.80 272.30 L560.76 272.07 L560.72 271.87 L560.67 271.65 L560.61 271.34 L560.54 270.88 L560.45 270.21 L560.34 269.27 L560.20 268.00 L560.03 266.25 L559.81 264.03 L559.57 261.47 L559.31 258.73 L559.05 255.97 L558.81 253.32 L558.59 250.95 L558.40 249.00 L558.25 247.49 L558.13 246.30 L558.03 245.33 L557.94 244.50 L557.86 243.74 L557.78 242.95 L557.69 242.07 L557.60 241.00 L557.50 239.79 L557.41 238.54 L557.31 237.24 L557.22 235.90 L557.12 234.51 L557.02 233.06 L556.91 231.56 L556.80 230.00 L556.68 228.44 L556.54 226.90 L556.41 225.34 L556.26 223.71 L556.12 221.97 L555.98 220.07 L555.83 217.96 L555.70 215.60 L555.57 212.87 L555.43 209.76 L555.29 206.40 L555.15 202.90 L555.02 199.39 L554.90 195.99 L554.79 192.82 L554.70 190.00 L554.62 187.52 L554.56 185.25 L554.51 183.17 L554.46 181.21 L554.43 179.36 L554.41 177.56 L554.40 175.79 L554.40 174.00 L554.42 172.22 L554.45 170.49 L554.50 168.82 L554.56 167.19 L554.62 165.60 L554.68 164.04 L554.75 162.51 L554.80 161.00 L554.85 159.55 L554.89 158.19 L554.93 156.88 L554.97 155.59 L555.02 154.29 L555.07 152.94 L555.13 151.52 L555.20 150.00 L555.28 148.37 L555.35 146.68 L555.44 144.92 L555.53 143.12 L555.62 141.27 L555.73 139.40 L555.86 137.50 L556.00 135.60 L556.16 133.62 L556.34 131.54 L556.54 129.40 L556.75 127.24 L556.96 125.13 L557.18 123.10 L557.39 121.21 L557.60 119.50 L557.79 118.04 L557.98 116.81 L558.16 115.74 L558.35 114.74 L558.54 113.75 L558.74 112.68 L558.96 111.45 L559.20 110.00 L559.45 108.33 L559.70 106.54 L559.95 104.63 L560.23 102.62 L560.52 100.54 L560.84 98.40 L561.20 96.21 L561.60 94.00 L562.06 91.70 L562.58 89.25 L563.14 86.72 L563.73 84.16 L564.32 81.60 L564.91 79.11 L565.47 76.72 L566.00 74.50 L566.49 72.45 L566.97 70.53 L567.43 68.70 L567.88 66.94 L568.32 65.23 L568.75 63.51 L569.18 61.78 L569.60 60.00 L570.01 58.19 L570.39 56.38 L570.76 54.57 L571.12 52.76 L571.49 50.94 L571.87 49.11 L572.27 47.26 L572.70 45.40 L573.17 43.46 L573.68 41.41 L574.21 39.31 L574.75 37.23 L575.28 35.19 L575.80 33.28 L576.28 31.53 L576.70 30.00 L577.06 28.76 L577.35 27.77 L577.60 26.97 L577.84 26.27 L578.07 25.61 L578.33 24.89 L578.63 24.05 L579.00 23.00 L579.45 21.69 L579.96 20.17 L580.52 18.53 L581.10 16.83 L581.68 15.17 L582.24 13.62 L582.75 12.27 L583.20 11.20 L583.58 10.41 L583.93 9.83 L584.23 9.41 L584.51 9.12 L584.77 8.93 L585.02 8.79 L585.26 8.66 L585.50 8.50 L585.73 8.35 L585.94 8.24 L586.14 8.18 L586.33 8.15 L586.52 8.16 L586.70 8.19 L586.90 8.24 L587.10 8.30 L587.31 8.37 L587.52 8.46 L587.73 8.57 L587.95 8.71 L588.17 8.87 L588.40 9.07 L588.64 9.31 L588.90 9.60 L589.16 9.90 L589.41 10.19 L589.66 10.49 L589.93 10.84 L590.21 11.27 L590.53 11.81 L590.89 12.47 L591.30 13.30 L591.76 14.35 L592.25 15.61 L592.78 17.03 L593.35 18.54 L593.95 20.08 L594.57 21.60 L595.22 23.02 L595.90 24.30 L596.60 25.47 L597.34 26.61 L598.11 27.70 L598.91 28.74 L599.73 29.73 L600.57 30.64 L601.43 31.46 L602.30 32.20 L603.22 32.83 L604.19 33.35 L605.20 33.78 L606.22 34.15 L607.23 34.47 L608.21 34.75 L609.14 35.02 L610.00 35.30 L610.64 35.54 L611.03 35.72 L611.29 35.86 L611.56 35.98 L611.96 36.10 L612.63 36.27 L613.70 36.49 L615.30 36.80 L617.50 37.22 L620.20 37.72 L623.29 38.29 L626.65 38.89 L630.17 39.50 L633.73 40.09 L637.21 40.63 L640.50 41.10 L643.71 41.51 L646.98 41.88 L650.29 42.22 L653.59 42.53 L656.83 42.82 L659.97 43.09 L662.98 43.35 L665.80 43.60 L668.45 43.83 L670.97 44.02 L673.37 44.20 L675.67 44.36 L677.87 44.51 L679.98 44.66 L682.02 44.82 L684.00 45.00 L685.93 45.19 L687.80 45.40 L689.61 45.61 L691.33 45.83 L692.94 46.04 L694.43 46.24 L695.79 46.43 L697.00 46.60 L698.02 46.75 L698.87 46.88 L699.56 46.99 L700.14 47.10 L700.65 47.21 L701.10 47.32 L701.54 47.45 L702.00 47.60 L702.47 47.78 L702.90 48.00 L703.30 48.23 L703.66 48.46 L703.99 48.69 L704.27 48.90 L704.51 49.07 L704.70 49.20" fill="none" stroke="#ff0000" stroke-width="3.70" stroke-linecap="round" stroke-linejoin="round" stroke-dasharray="10.00 1.85 17.21 12.66 17.21 12.66 17.21 12.66 17.21 12.66 17.21 12.66 17.21 12.66 17.21 12.66 17.21 12.66 17.21 12.66 17.21 12.66 17.21 12.66 17.21 12.66 17.21 12.66 13.25 50.00" stroke-dashoffset="10.00"/>
<path d="M560.80 272.30 L560.76 272.07 L560.72 271.87 L560.67 271.65 L560.61 271.34 L560.54 270.88 L560.45 270.21 L560.34 269.27 L560.20 268.00 L560.03 266.25 L559.81 264.03 L559.57 261.47 L559.31 258.73 L559.05 255.97 L558.81 253.32 L558.59 250.95 L558.40 249.00 L558.25 247.49 L558.13 246.30 L558.03 245.33 L557.94 244.50 L557.86 243.74 L557.78 242.95 L557.69 242.07 L557.60 241.00 L557.50 239.79 L557.41 238.54 L557.31 237.24 L557.22 235.90 L557.12 234.51 L557.02 233.06 L556.91 231.56 L556.80 230.00 L556.68 228.44 L556.54 226.90 L556.41 225.34 L556.26 223.71 L556.12 221.97 L555.98 220.07 L555.83 217.96 L555.70 215.60 L555.57 212.87 L555.43 209.76 L555.29 206.40 L555.15 202.90 L555.02 199.39 L554.90 195.99 L554.79 192.82 L554.70 190.00 L554.62 187.52 L554.56 185.25 L554.51 183.17 L554.46 181.21 L554.43 179.36 L554.41 177.56 L554.40 175.79 L554.40 174.00 L554.42 172.22 L554.45 170.49 L554.50 168.82 L554.56 167.19 L554.62 165.60 L554.68 164.04 L554.75 162.51 L554.80 161.00 L554.85 159.55 L554.89 158.19 L554.93 156.88 L554.97 155.59 L555.02 154.29 L555.07 152.94 L555.13 151.52 L555.20 150.00 L555.28 148.37 L555.35 146.68 L555.44 144.92 L555.53 143.12 L555.62 141.27 L555.73 139.40 L555.86 137.50 L556.00 135.60 L556.16 133.62 L556.34 131.54 L556.54 129.40 L556.75 127.24 L556.96 125.13 L557.18 123.10 L557.39 121.21 L557.60 119.50 L557.79 118.04 L557.98 116.81 L558.16 115.74 L558.35 114.74 L558.54 113.75 L558.74 112.68 L558.96 111.45 L559.20 110.00 L559.45 108.33 L559.70 106.54 L559.95 104.63 L560.23 102.62 L560.52 100.54 L560.84 98.40 L561.20 96.21 L561.60 94.00 L562.06 91.70 L562.58 89.25 L563.14 86.72 L563.73 84.16 L564.32 81.60 L564.91 79.11 L565.47 76.72 L566.00 74.50 L566.49 72.45 L566.97 70.53 L567.43 68.70 L567.88 66.94 L568.32 65.23 L568.75 63.51 L569.18 61.78 L569.60 60.00 L570.01 58.19 L570.39 56.38 L570.76 54.57 L571.12 52.76 L571.49 50.94 L571.87 49.11 L572.27 47.26 L572.70 45.40 L573.17 43.46 L573.68 41.41 L574.21 39.31 L574.75 37.23 L575.28 35.19 L575.80 33.28 L576.28 31.53 L576.70 30.00 L577.06 28.76 L577.35 27.77 L577.60 26.97 L577.84 26.27 L578.07 25.61 L578.33 24.89 L578.63 24.05 L579.00 23.00 L579.45 21.69 L579.96 20.17 L580.52 18.53 L581.10 16.83 L581.68 15.17 L582.24 13.62 L582.75 12.27 L583.20 11.20 L583.58 10.41 L583.93 9.83 L584.23 9.41 L584.51 9.12 L584.77 8.93 L585.02 8.79 L585.26 8.66 L585.50 8.50 L585.73 8.35 L585.94 8.24 L586.14 8.18 L586.33 8.15 L586.52 8.16 L586.70 8.19 L586.90 8.24 L587.10 8.30 L587.31 8.37 L587.52 8.46 L587.73 8.57 L587.95 8.71 L588.17 8.87 L588.40 9.07 L588.64 9.31 L588.90 9.60 L589.16 9.90 L589.41 10.19 L589.66 10.49 L589.93 10.84 L590.21 11.27 L590.53 11.81 L590.89 12.47 L591.30 13.30 L591.76 14.35 L592.25 15.61 L592.78 17.03 L593.35 18.54 L593.95 20.08 L594.57 21.60 L595.22 23.02 L595.90 24.30 L596.60 25.47 L597.34 26.61 L598.11 27.70 L598.91 28.74 L599.73 29.73 L600.57 30.64 L601.43 31.46 L602.30 32.20 L603.22 32.83 L604.19 33.35 L605.20 33.78 L606.22 34.15 L607.23 34.47 L608.21 34.75 L609.14 35.02 L610.00 35.30 L610.64 35.54 L611.03 35.72 L611.29 35.86 L611.56 35.98 L611.96 36.10 L612.63 36.27 L613.70 36.49 L615.30 36.80 L617.50 37.22 L620.20 37.72 L623.29 38.29 L626.65 38.89 L630.17 39.50 L633.73 40.09 L637.21 40.63 L640.50 41.10 L643.71 41.51 L646.98 41.88 L650.29 42.22 L653.59 42.53 L656.83 42.82 L659.97 43.09 L662.98 43.35 L665.80 43.60 L668.45 43.83 L670.97 44.02 L673.37 44.20 L675.67 44.36 L677.87 44.51 L679.98 44.66 L682.02 44.82 L684.00 45.00 L685.93 45.19 L687.80 45.40 L689.61 45.61 L691.33 45.83 L692.94 46.04 L694.43 46.24 L695.79 46.43 L697.00 46.60 L698.02 46.75 L698.87 46.88 L699.56 46.99 L700.14 47.10 L700.65 47.21 L701.10 47.32 L701.54 47.45 L702.00 47.60 L702.47 47.78 L702.90 48.00 L703.30 48.23 L703.66 48.46 L703.99 48.69 L704.27 48.90 L704.51 49.07 L704.70 49.20" fill="none" stroke="#ff0000" stroke-width="3.00" stroke-linecap="round" stroke-linejoin="round" stroke-dasharray="10.00 23.89 0.01 3.28 0.01 26.57 0.01 3.28 0.01 26.57 0.01 3.28 0.01 26.57 0.01 3.28 0.01 26.57 0.01 3.28 0.01 26.57 0.01 3.28 0.01 26.57 0.01 3.28 0.01 26.57 0.01 3.28 0.01 26.57 0.01 3.28 0.01 26.57 0.01 3.28 0.01 26.57 0.01 3.28 0.01 26.57 0.01 3.28 0.01 26.57 0.01 3.28 0.01 67.78" stroke-dashoffset="10.00"/>
<path d="M704.70 49.20 L704.60 49.47 L704.50 49.83 L704.39 50.26 L704.24 50.74 L704.05 51.25 L703.79 51.76 L703.44 52.25 L703.00 52.70 L702.48 53.13 L701.90 53.57 L701.26 54.01 L700.54 54.44 L699.73 54.87 L698.83 55.27 L697.83 55.65 L696.70 56.00 L695.46 56.32 L694.10 56.62 L692.65 56.91 L691.09 57.17 L689.45 57.41 L687.71 57.63 L685.89 57.83 L684.00 58.00 L682.04 58.16 L680.00 58.30 L677.89 58.43 L675.69 58.54 L673.39 58.61 L670.98 58.65 L668.45 58.65 L665.80 58.60 L662.98 58.50 L659.97 58.35 L656.83 58.15 L653.59 57.92 L650.29 57.67 L646.98 57.39 L643.71 57.10 L640.50 56.80 L637.35 56.48 L634.20 56.13 L631.05 55.76 L627.90 55.37 L624.75 54.97 L621.60 54.57 L618.45 54.18 L615.30 53.80 L612.07 53.42 L608.74 53.02 L605.37 52.61 L602.01 52.21 L598.74 51.83 L595.60 51.47 L592.67 51.16 L590.00 50.90 L587.59 50.69 L585.39 50.53 L583.36 50.40 L581.48 50.30 L579.73 50.23 L578.09 50.17 L576.52 50.13 L575.00 50.10 L573.56 50.08 L572.22 50.07 L570.99 50.07 L569.84 50.10 L568.78 50.14 L567.79 50.21 L566.87 50.29 L566.00 50.40 L565.21 50.52 L564.53 50.66 L563.92 50.82 L563.38 50.99 L562.89 51.20 L562.42 51.43 L561.96 51.70 L561.50 52.00 L561.02 52.38 L560.55 52.84 L560.10 53.36 L559.67 53.90 L559.27 54.43 L558.92 54.91 L558.63 55.31 L558.40 55.60" fill="none" stroke="#ff0000" stroke-width="3.70" stroke-linecap="round" stroke-linejoin="round" stroke-dasharray="10.00 1.85 12.99 10.85 12.99 10.85 12.99 10.85 12.99 10.85 12.99 10.85 12.99 10.85 7.18 50.00" stroke-dashoffset="10.00"/>
<path d="M704.70 49.20 L704.60 49.47 L704.50 49.83 L704.39 50.26 L704.24 50.74 L704.05 51.25 L703.79 51.76 L703.44 52.25 L703.00 52.70 L702.48 53.13 L701.90 53.57 L701.26 54.01 L700.54 54.44 L699.73 54.87 L698.83 55.27 L697.83 55.65 L696.70 56.00 L695.46 56.32 L694.10 56.62 L692.65 56.91 L691.09 57.17 L689.45 57.41 L687.71 57.63 L685.89 57.83 L684.00 58.00 L682.04 58.16 L680.00 58.30 L677.89 58.43 L675.69 58.54 L673.39 58.61 L670.98 58.65 L668.45 58.65 L665.80 58.60 L662.98 58.50 L659.97 58.35 L656.83 58.15 L653.59 57.92 L650.29 57.67 L646.98 57.39 L643.71 57.10 L640.50 56.80 L637.35 56.48 L634.20 56.13 L631.05 55.76 L627.90 55.37 L624.75 54.97 L621.60 54.57 L618.45 54.18 L615.30 53.80 L612.07 53.42 L608.74 53.02 L605.37 52.61 L602.01 52.21 L598.74 51.83 L595.60 51.47 L592.67 51.16 L590.00 50.90 L587.59 50.69 L585.39 50.53 L583.36 50.40 L581.48 50.30 L579.73 50.23 L578.09 50.17 L576.52 50.13 L575.00 50.10 L573.56 50.08 L572.22 50.07 L570.99 50.07 L569.84 50.10 L568.78 50.14 L567.79 50.21 L566.87 50.29 L566.00 50.40 L565.21 50.52 L564.53 50.66 L563.92 50.82 L563.38 50.99 L562.89 51.20 L562.42 51.43 L561.96 51.70 L561.50 52.00 L561.02 52.38 L560.55 52.84 L560.10 53.36 L559.67 53.90 L559.27 54.43 L558.92 54.91 L558.63 55.31 L558.40 55.60" fill="none" stroke="#ff0000" stroke-width="3.00" stroke-linecap="round" stroke-linejoin="round" stroke-dasharray="10.00 19.07 0.01 2.61 0.01 21.21 0.01 2.61 0.01 21.21 0.01 2.61 0.01 21.21 0.01 2.61 0.01 21.21 0.01 2.61 0.01 21.21 0.01 2.61 0.01 61.16" stroke-dashoffset="10.00"/>
<path d="M558.40 55.60 L558.59 56.00 L558.82 56.53 L559.10 57.15 L559.41 57.84 L559.76 58.60 L560.15 59.39 L560.56 60.20 L561.00 61.00 L561.46 61.82 L561.93 62.68 L562.43 63.57 L562.97 64.49 L563.55 65.43 L564.17 66.38 L564.85 67.34 L565.60 68.30 L566.45 69.29 L567.42 70.34 L568.46 71.41 L569.54 72.49 L570.62 73.54 L571.67 74.54 L572.64 75.47 L573.50 76.30 L574.23 77.01 L574.86 77.61 L575.43 78.14 L575.95 78.62 L576.47 79.08 L577.01 79.54 L577.61 80.04 L578.30 80.60 L578.95 81.12 L579.48 81.53 L579.99 81.91 L580.56 82.32 L581.30 82.86 L582.28 83.58 L583.62 84.57 L585.40 85.90 L587.70 87.65 L590.46 89.77 L593.58 92.17 L596.96 94.76 L600.47 97.44 L604.02 100.10 L607.50 102.65 L610.80 105.00 L613.98 107.18 L617.15 109.30 L620.33 111.37 L623.50 113.41 L626.67 115.41 L629.85 117.38 L633.02 119.34 L636.20 121.30 L639.38 123.26 L642.55 125.23 L645.73 127.19 L648.90 129.12 L652.08 131.01 L655.25 132.85 L658.43 134.62 L661.60 136.30 L664.78 137.91 L667.95 139.47 L671.12 140.97 L674.30 142.41 L677.48 143.79 L680.65 145.10 L683.83 146.34 L687.00 147.50 L690.17 148.59 L693.35 149.60 L696.52 150.54 L699.70 151.41 L702.88 152.22 L706.05 152.97 L709.22 153.66 L712.40 154.30 L715.67 154.88 L719.06 155.39 L722.51 155.84 L725.93 156.22 L729.24 156.56 L732.38 156.85 L735.26 157.09 L737.80 157.30 L739.87 157.46 L741.47 157.56 L742.77 157.62 L743.91 157.63 L745.05 157.60 L746.34 157.53 L747.94 157.43 L750.00 157.30 L752.54 157.15 L755.41 156.97 L758.53 156.76 L761.84 156.52 L765.24 156.23 L768.67 155.88 L772.05 155.48 L775.30 155.00 L778.45 154.45 L781.60 153.85 L784.75 153.18 L787.90 152.46 L791.05 151.68 L794.20 150.86 L797.35 150.00 L800.50 149.10 L803.71 148.14 L807.00 147.10 L810.32 146.01 L813.62 144.88 L816.87 143.73 L820.01 142.57 L823.01 141.42 L825.80 140.30 L828.39 139.19 L830.83 138.07 L833.13 136.94 L835.32 135.82 L837.42 134.70 L839.45 133.61 L841.43 132.54 L843.40 131.50 L845.40 130.45 L847.44 129.36 L849.46 128.26 L851.40 127.20 L853.20 126.21 L854.81 125.32 L856.16 124.57 L857.20 124.00" fill="none" stroke="#ff0000" stroke-width="3.70" stroke-linecap="round" stroke-linejoin="round" stroke-dasharray="10.00 1.85 11.59 11.57 11.84 11.71 12.10 11.84 12.37 11.98 12.64 12.12 12.91 12.26 13.19 12.40 13.48 12.55 13.77 12.70 14.06 12.85 14.36 13.00 14.66 13.16 14.97 13.32 2.83 50.00" stroke-dashoffset="10.00"/>
<path d="M558.40 55.60 L558.59 56.00 L558.82 56.53 L559.10 57.15 L559.41 57.84 L559.76 58.60 L560.15 59.39 L560.56 60.20 L561.00 61.00 L561.46 61.82 L561.93 62.68 L562.43 63.57 L562.97 64.49 L563.55 65.43 L564.17 66.38 L564.85 67.34 L565.60 68.30 L566.45 69.29 L567.42 70.34 L568.46 71.41 L569.54 72.49 L570.62 73.54 L571.67 74.54 L572.64 75.47 L573.50 76.30 L574.23 77.01 L574.86 77.61 L575.43 78.14 L575.95 78.62 L576.47 79.08 L577.01 79.54 L577.61 80.04 L578.30 80.60 L578.95 81.12 L579.48 81.53 L579.99 81.91 L580.56 82.32 L581.30 82.86 L582.28 83.58 L583.62 84.57 L585.40 85.90 L587.70 87.65 L590.46 89.77 L593.58 92.17 L596.96 94.76 L600.47 97.44 L604.02 100.10 L607.50 102.65 L610.80 105.00 L613.98 107.18 L617.15 109.30 L620.33 111.37 L623.50 113.41 L626.67 115.41 L629.85 117.38 L633.02 119.34 L636.20 121.30 L639.38 123.26 L642.55 125.23 L645.73 127.19 L648.90 129.12 L652.08 131.01 L655.25 132.85 L658.43 134.62 L661.60 136.30 L664.78 137.91 L667.95 139.47 L671.12 140.97 L674.30 142.41 L677.48 143.79 L680.65 145.10 L683.83 146.34 L687.00 147.50 L690.17 148.59 L693.35 149.60 L696.52 150.54 L699.70 151.41 L702.88 152.22 L706.05 152.97 L709.22 153.66 L712.40 154.30 L715.67 154.88 L719.06 155.39 L722.51 155.84 L725.93 156.22 L729.24 156.56 L732.38 156.85 L735.26 157.09 L737.80 157.30 L739.87 157.46 L741.47 157.56 L742.77 157.62 L743.91 157.63 L745.05 157.60 L746.34 157.53 L747.94 157.43 L750.00 157.30 L752.54 157.15 L755.41 156.97 L758.53 156.76 L761.84 156.52 L765.24 156.23 L768.67 155.88 L772.05 155.48 L775.30 155.00 L778.45 154.45 L781.60 153.85 L784.75 153.18 L787.90 152.46 L791.05 151.68 L794.20 150.86 L797.35 150.00 L800.50 149.10 L803.71 148.14 L807.00 147.10 L810.32 146.01 L813.62 144.88 L816.87 143.73 L820.01 142.57 L823.01 141.42 L825.80 140.30 L828.39 139.19 L830.83 138.07 L833.13 136.94 L835.32 135.82 L837.42 134.70 L839.45 133.61 L841.43 132.54 L843.40 131.50 L845.40 130.45 L847.44 129.36 L849.46 128.26 L851.40 127.20 L853.20 126.21 L854.81 125.32 L856.16 124.57 L857.20 124.00" fill="none" stroke="#ff0000" stroke-width="3.00" stroke-linecap="round" stroke-linejoin="round" stroke-dasharray="10.00 17.83 0.01 2.77 0.01 20.67 0.01 2.82 0.01 21.02 0.01 2.86 0.01 21.37 0.01 2.91 0.01 21.73 0.01 2.96 0.01 22.10 0.01 3.01 0.01 22.47 0.01 3.06 0.01 22.85 0.01 3.11 0.01 23.23 0.01 3.17 0.01 23.62 0.01 3.22 0.01 24.02 0.01 3.27 0.01 24.42 0.01 3.33 0.01 24.83 0.01 3.38 0.01 57.78" stroke-dashoffset="10.00"/>
<path d="M577.60 26.97 L577.68 26.73 L577.76 26.50 L577.84 26.27 L577.91 26.05 L577.99 25.83 L578.07 25.61 L578.16 25.38 L578.24 25.14 L578.33 24.89 L578.43 24.63 L578.53 24.35 L578.63 24.05 L578.75 23.72 L578.87 23.38 L579.00 23.00 L579.14 22.59 L579.29 22.16 L579.45 21.69 L579.61 21.21 L579.78 20.70 L579.96 20.17 L580.14 19.64 L580.33 19.09 L580.52 18.53 L580.71 17.96 L580.91 17.40 L581.10 16.83 L581.29 16.27 L581.49 15.71 L581.68 15.17 L581.87 14.64 L582.06 14.12 L582.24 13.62 L582.42 13.15 L582.59 12.70 L582.75 12.27 L582.91 11.88 L583.06 11.52 L583.20 11.20 L583.33 10.91 L583.46 10.65 L583.58 10.41 L583.70 10.19 L583.82 10.00 L583.93 9.83 L584.03 9.67 L584.13 9.53 L584.23 9.41 L584.33 9.30 L584.42 9.21 L584.51 9.12 L584.60 9.05 L584.69 8.99 L584.77 8.93 L584.86 8.88 L584.94 8.83 L585.02 8.79 L585.10 8.74 L585.18 8.70 L585.26 8.66 L585.34 8.61 L585.42 8.56 L585.50 8.50 L585.58 8.44 L585.66 8.39 L585.73 8.35 L585.80 8.30 L585.88 8.27 L585.94 8.24 L586.01 8.21 L586.08 8.19 L586.14 8.18 L586.21 8.16 L586.27 8.15 L586.33 8.15 L586.39 8.15 L586.45 8.15 L586.52 8.16 L586.58 8.16 L586.64 8.17 L586.70 8.19 L586.77 8.20 L586.83 8.22 L586.90 8.24 L586.96 8.26 L587.03 8.28 L587.10 8.30 L587.17 8.32 L587.24 8.35 L587.31 8.37 L587.38 8.40 L587.45 8.43 L587.52 8.46 L587.59 8.50 L587.66 8.53 L587.73 8.57 L587.81 8.61 L587.88 8.66 L587.95 8.71 L588.02 8.76 L588.10 8.81 L588.17 8.87 L588.25 8.93 L588.33 9.00 L588.40 9.07 L588.48 9.15 L588.56 9.23 L588.64 9.31 L588.73 9.40 L588.81 9.50 L588.90 9.60 L588.99 9.70 L589.07 9.80 L589.16 9.90 L589.24 9.99 L589.32 10.09 L589.41 10.19 L589.49 10.28 L589.57 10.39 L589.66 10.49 L589.75 10.60 L589.83 10.72 L589.93 10.84 L590.02 10.98 L590.11 11.12 L590.21 11.27 L590.31 11.44 L590.42 11.61 L590.53 11.81 L590.65 12.01 L590.77 12.23 L590.89 12.47 L591.02 12.73 L591.16 13.00 L591.30 13.30 L591.45 13.62 L591.60 13.97 L591.76 14.35 L591.92 14.75 L592.08 15.17 L592.25 15.61 L592.43 16.07 L592.60 16.54 L592.78 17.03 L592.97 17.52 L593.16 18.03 L593.35 18.54 L593.55 19.05 L593.74 19.57 L593.95 20.08 L594.15 20.59 L594.36 21.10 L594.57 21.60 L594.79 22.09 L595.00 22.56 L595.22 23.02 L595.45 23.47 L595.67 23.89 L595.90 24.30 L596.13 24.69 L596.37 25.08 L596.60 25.47 L596.85 25.85 L597.09 26.23 L597.34 26.61 L597.60 26.98 L597.85 27.34 L598.11 27.70 L598.37 28.05 L598.64 28.40 L598.91 28.74 L599.18 29.08 L599.45 29.41 L599.73 29.73 L600.00 30.04 L600.28 30.34 L600.57 30.64 L600.85 30.92 L601.14 31.20 L601.43 31.46 L601.72 31.72 L602.01 31.97 L602.30 32.20 L602.60 32.42 L602.90 32.63 L603.22 32.83 L603.54 33.01 L603.86 33.19 L604.19 33.35" fill="none" stroke="#ff0000" stroke-width="3.5" stroke-linecap="round" stroke-linejoin="round"/>
<circle cx="489.3" cy="53.8" r="1.3" fill="#ff0000"/>
<text transform="translate(32.32,278.40) rotate(0.03) scale(1.0000,1)" class="sa" font-size="16.00" fill="#000">0</text>
<text transform="translate(32.48,251.70) rotate(0.03) scale(1.0000,1)" class="sa" font-size="16.00" fill="#000">1</text>
<text transform="translate(32.52,225.00) rotate(0.03) scale(1.0000,1)" class="sa" font-size="16.00" fill="#000">2</text>
<text transform="translate(32.40,198.30) rotate(0.03) scale(1.0000,1)" class="sa" font-size="16.00" fill="#000">3</text>
<text transform="translate(32.16,171.60) rotate(0.03) scale(1.0000,1)" class="sa" font-size="16.00" fill="#000">4</text>
<text transform="translate(32.36,144.90) rotate(0.03) scale(1.0000,1)" class="sa" font-size="16.00" fill="#000">5</text>
<text transform="translate(32.40,118.20) rotate(0.03) scale(1.0000,1)" class="sa" font-size="16.00" fill="#000">6</text>
<text transform="translate(32.52,91.50) rotate(0.03) scale(1.0000,1)" class="sa" font-size="16.00" fill="#000">7</text>
<text transform="translate(32.40,64.80) rotate(0.03) scale(1.0000,1)" class="sa" font-size="16.00" fill="#000">8</text>
<text transform="translate(32.44,38.10) rotate(0.03) scale(1.0000,1)" class="sa" font-size="16.00" fill="#000">9</text>
<text transform="translate(23.44,11.40) rotate(0.03) scale(1.0000,1)" class="sa" font-size="16.00" fill="#000">10</text>
<text transform="translate(459.24,278.40) rotate(0.03) scale(1.0000,1)" class="sa" font-size="15.20" fill="#000">0.0</text>
<text transform="translate(459.43,225.00) rotate(0.03) scale(1.0000,1)" class="sa" font-size="15.20" fill="#000">0.2</text>
<text transform="translate(459.09,171.60) rotate(0.03) scale(1.0000,1)" class="sa" font-size="15.20" fill="#000">0.4</text>
<text transform="translate(459.32,118.20) rotate(0.03) scale(1.0000,1)" class="sa" font-size="15.20" fill="#000">0.6</text>
<text transform="translate(459.32,64.80) rotate(0.03) scale(1.0000,1)" class="sa" font-size="15.20" fill="#000">0.8</text>
<text transform="translate(459.72,10.90) rotate(0.03) scale(1.0000,1)" class="sa" font-size="14.70" fill="#000">1.0</text>
<text transform="translate(34.72,295.00) rotate(0.03) scale(1.0000,1)" class="sa" font-size="16.00" fill="#000">0.77</text>
<text transform="translate(474.58,294.60) rotate(0.03) scale(1.0000,1)" class="sa" font-size="14.80" fill="#000">0.77</text>
<text transform="translate(96.03,295.00) rotate(0.03) scale(1.0000,1)" class="sa" font-size="16.00" fill="#000">0.78</text>
<text transform="translate(535.93,294.60) rotate(0.03) scale(1.0000,1)" class="sa" font-size="14.80" fill="#000">0.78</text>
<text transform="translate(157.41,295.00) rotate(0.03) scale(1.0000,1)" class="sa" font-size="16.00" fill="#000">0.79</text>
<text transform="translate(597.34,294.60) rotate(0.03) scale(1.0000,1)" class="sa" font-size="14.80" fill="#000">0.79</text>
<text transform="translate(218.72,295.00) rotate(0.03) scale(1.0000,1)" class="sa" font-size="16.00" fill="#000">0.80</text>
<text transform="translate(658.69,294.60) rotate(0.03) scale(1.0000,1)" class="sa" font-size="14.80" fill="#000">0.80</text>
<text transform="translate(280.17,295.00) rotate(0.03) scale(1.0000,1)" class="sa" font-size="16.00" fill="#000">0.81</text>
<text transform="translate(720.16,294.60) rotate(0.03) scale(1.0000,1)" class="sa" font-size="14.80" fill="#000">0.81</text>
<text transform="translate(341.55,295.00) rotate(0.03) scale(1.0000,1)" class="sa" font-size="16.00" fill="#000">0.82</text>
<text transform="translate(781.58,294.60) rotate(0.03) scale(1.0000,1)" class="sa" font-size="14.80" fill="#000">0.82</text>
<text transform="translate(402.86,295.00) rotate(0.03) scale(1.0000,1)" class="sa" font-size="16.00" fill="#000">0.83</text>
<text transform="translate(842.93,294.60) rotate(0.03) scale(1.0000,1)" class="sa" font-size="14.80" fill="#000">0.83</text>
<text transform="translate(227.89,321.30) rotate(0.03) scale(1.0798,1)" class="se" font-size="21.30" fill="#000">æ</text>
<text transform="translate(666.01,324.20) rotate(0.03) scale(1.1003,1)" class="se" font-size="20.60" fill="#000">æ</text>
<text transform="translate(15.00,130.70) rotate(-90.03) scale(1.0453,1) translate(-37.77,0)" class="se" font-size="21.40" fill="#000">Intensity</text>
<text transform="translate(445.00,142.50) rotate(-90.03) scale(0.9997,1) translate(-58.91,0)" class="se" font-size="22.00" fill="#000">Transmission</text>
<text transform="translate(59.63,38.00) rotate(0.03) scale(1.0414,1)" class="se" font-size="29.30" fill="#000">(a)</text>
<text transform="translate(811.13,34.70) rotate(0.03) scale(1.0686,1)" class="se" font-size="28.40" fill="#000">(b)</text>
<rect x="270.00" y="11.00" width="142.90" height="56.20" fill="#fff" stroke="#000" stroke-width="1.6"/>
<line x1="279.50" y1="25.00" x2="328.70" y2="25.00" stroke="#0000ff" stroke-width="3.0" stroke-linecap="round"/>
<line x1="280.10" y1="51.60" x2="297.50" y2="51.60" stroke="#ff0000" stroke-width="3.0" stroke-linecap="round"/>
<line x1="314.50" y1="51.60" x2="331.50" y2="51.60" stroke="#ff0000" stroke-width="3.0" stroke-linecap="round"/>
<circle cx="303.00" cy="51.60" r="1.85" fill="#ff0000"/>
<circle cx="309.00" cy="51.60" r="1.85" fill="#ff0000"/>
<text transform="translate(333.46,32.00) rotate(0.03) scale(0.8519,1)" class="si" font-size="22.60" fill="#000">A</text>
<text transform="translate(347.36,36.60) rotate(0.03) scale(1.0871,1)" class="se" font-size="15.80" fill="#000">0</text>
<text transform="translate(356.91,32.00) rotate(0.03) scale(1.1521,1)" class="se" font-size="22.40" fill="#000">=</text>
<text transform="translate(377.15,32.00) rotate(0.03) scale(0.9448,1)" class="se" font-size="22.40" fill="#000">100</text>
<text transform="translate(333.46,57.60) rotate(0.03) scale(0.8519,1)" class="si" font-size="22.60" fill="#000">A</text>
<text transform="translate(347.36,62.20) rotate(0.03) scale(1.0871,1)" class="se" font-size="15.80" fill="#000">0</text>
<text transform="translate(356.91,57.60) rotate(0.03) scale(1.1521,1)" class="se" font-size="22.40" fill="#000">=</text>
<text transform="translate(376.06,57.60) rotate(0.03) scale(0.9780,1)" class="se" font-size="22.40" fill="#000">400</text>
<rect x="616.40" y="202.00" width="135.10" height="54.70" fill="#fff" stroke="#000" stroke-width="1.6"/>
<line x1="623.90" y1="218.10" x2="673.50" y2="218.10" stroke="#0000ff" stroke-width="3.0" stroke-linecap="round"/>
<line x1="622.50" y1="244.30" x2="640.50" y2="244.30" stroke="#ff0000" stroke-width="3.0" stroke-linecap="round"/>
<line x1="656.50" y1="244.30" x2="674.10" y2="244.30" stroke="#ff0000" stroke-width="3.0" stroke-linecap="round"/>
<circle cx="645.00" cy="244.30" r="1.85" fill="#ff0000"/>
<circle cx="651.00" cy="244.30" r="1.85" fill="#ff0000"/>
<text transform="translate(677.43,223.80) rotate(0.03) scale(0.8706,1)" class="si" font-size="21.60" fill="#000">A</text>
<text transform="translate(689.58,229.10) rotate(0.03) scale(1.0294,1)" class="se" font-size="16.00" fill="#000">0</text>
<text transform="translate(697.24,223.80) rotate(0.03) scale(1.1703,1)" class="se" font-size="21.50" fill="#000">=</text>
<text transform="translate(714.03,223.80) rotate(0.03) scale(0.9945,1)" class="se" font-size="21.50" fill="#000">100</text>
<text transform="translate(677.43,249.50) rotate(0.03) scale(0.8706,1)" class="si" font-size="21.60" fill="#000">A</text>
<text transform="translate(689.58,254.80) rotate(0.03) scale(1.0294,1)" class="se" font-size="16.00" fill="#000">0</text>
<text transform="translate(697.24,249.50) rotate(0.03) scale(1.1703,1)" class="se" font-size="21.50" fill="#000">=</text>
<text transform="translate(713.26,249.50) rotate(0.03) scale(1.0189,1)" class="se" font-size="21.50" fill="#000">400</text>
</svg>
</body></html>
